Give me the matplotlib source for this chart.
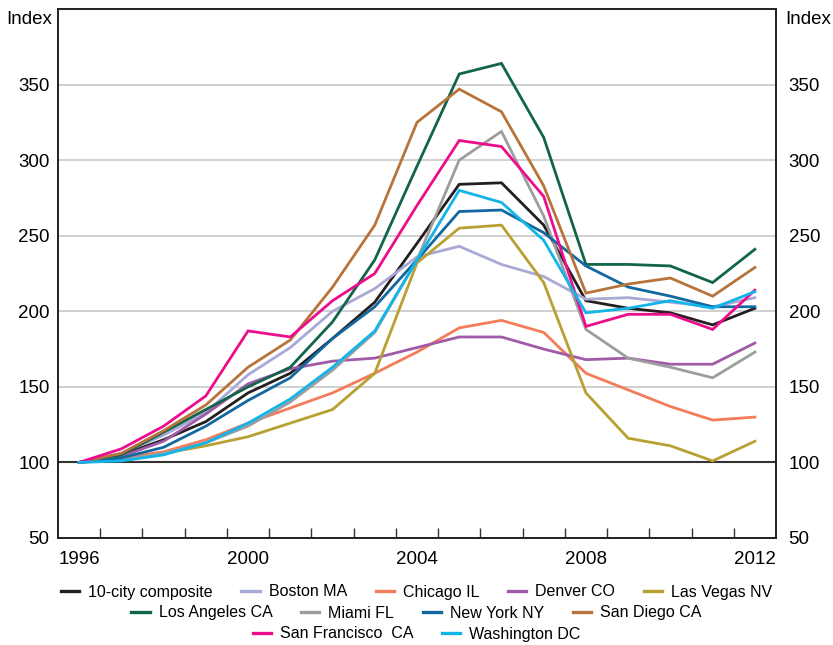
import numpy as np
import matplotlib
matplotlib.use("Agg")
import matplotlib.pyplot as plt
from matplotlib.lines import Line2D

plt.rcParams['font.family'] = ['Liberation Sans', 'DejaVu Sans']

# Years shown on the axis (annual index, 1996 = 100)
years = list(range(1996, 2013))
tick_years = [1996, 2000, 2004, 2008, 2012]

composite = [100, 105, 115, 127, 146, 159, 182, 206, 245, 284, 285, 257, 207, 202, 199, 191, 202]
boston = [100, 106, 118, 133, 158, 176, 200, 215, 236, 243, 231, 223, 208, 209, 206, 203, 209]
chicago = [100, 103, 107, 115, 126, 136, 146, 159, 173, 189, 194, 186, 159, 148, 137, 128, 130]
denver = [100, 104, 114, 132, 152, 162, 167, 169, 176, 183, 183, 175, 168, 169, 165, 165, 179]
las_vegas = [100, 102, 106, 111, 117, 126, 135, 159, 232, 255, 257, 219, 146, 116, 111, 101, 114]
los_angeles = [100, 105, 120, 135, 150, 163, 193, 234, 296, 357, 364, 315, 231, 231, 230, 219, 241]
miami = [100, 102, 106, 113, 124, 140, 161, 186, 234, 300, 319, 263, 188, 169, 163, 156, 173]
new_york = [100, 103, 110, 124, 141, 156, 182, 203, 234, 266, 267, 252, 230, 216, 210, 203, 203]
san_diego = [100, 106, 121, 138, 163, 181, 216, 257, 325, 347, 332, 283, 212, 218, 222, 210, 229]
san_francisco = [100, 109, 124, 144, 187, 183, 207, 225, 270, 313, 309, 276, 190, 198, 198, 188, 214]
washington = [100, 101, 105, 113, 126, 142, 163, 187, 234, 280, 272, 247, 199, 202, 207, 202, 213]

names = ["10-city composite", "Boston MA", "Chicago IL", "Denver CO", "Las Vegas NV",
         "Los Angeles CA", "Miami FL", "New York NY", "San Diego CA",
         "San Francisco  CA", "Washington DC"]
series = [composite, boston, chicago, denver, las_vegas, los_angeles, miami,
          new_york, san_diego, san_francisco, washington]
colors = ["#231f20", "#a9a9d6", "#f47c5a", "#a05aa8", "#b8a032", "#11654a",
          "#9d9d9d", "#11689f", "#b8733a", "#ec0d8c", "#12b5ea"]

fig = plt.figure(figsize=(8.33, 6.45), dpi=100)
ax = fig.add_axes([58 / 833, 1 - 538 / 645, 718 / 833, 529 / 645])

x = np.arange(len(years))

# grid and the 100 base line
for gy in [150, 200, 250, 300, 350]:
    ax.axhline(gy, color="#c8c8c8", lw=1.2, zorder=1)
ax.axhline(100, color="#333333", lw=1.5, zorder=2)

handles = []
for name, vals, col in zip(names, series, colors):
    ax.plot(x, vals, color=col, lw=2.0, zorder=3, solid_joinstyle="miter")
    handles.append(Line2D([0], [0], color=col, lw=2.4))

ax.set_xlim(-0.5, len(years) - 0.5)
ax.set_ylim(50, 400)

ax.set_xticks([years.index(t) for t in tick_years])
ax.set_xticklabels([str(t) for t in tick_years])
ax.set_xticks(np.arange(0.5, len(years) - 1, 1.0), minor=True)
ax.tick_params(axis="x", which="major", length=0, pad=9, labelsize=13.5)
ax.tick_params(axis="x", which="minor", direction="in", length=7, width=1, color="#333333")

yt = [50, 100, 150, 200, 250, 300, 350]
ax.set_yticks(yt)
ax.tick_params(axis="y", length=0, pad=6, labelsize=13.5)

ax2 = ax.twinx()
ax2.set_ylim(50, 400)
ax2.set_yticks(yt)
ax2.tick_params(axis="y", length=0, pad=9, labelsize=13.5)

for a in (ax, ax2):
    for s in a.spines.values():
        s.set_color("#231f20")
        s.set_linewidth(1.2)

ax.annotate("Index", xy=(0, 1), xycoords="axes fraction", xytext=(-6, -11),
            textcoords="offset pixels", ha="right", va="center", fontsize=13.5)
ax.annotate("Index", xy=(1, 1), xycoords="axes fraction", xytext=(9, -11),
            textcoords="offset pixels", ha="left", va="center", fontsize=13.5)

# legend in three centred rows
rows = [(0, 5, 1 - 592 / 645), (5, 9, 1 - 613 / 645), (9, 11, 1 - 634 / 645)]
for start, stop, yy in rows:
    leg = fig.legend(handles[start:stop], names[start:stop], loc="center",
                     bbox_to_anchor=(0.5, yy), ncol=stop - start, frameon=False,
                     fontsize=11.5, handlelength=1.15, handletextpad=0.55,
                     columnspacing=1.8, borderpad=0, borderaxespad=0)

fig.savefig("out.png", dpi=100)
